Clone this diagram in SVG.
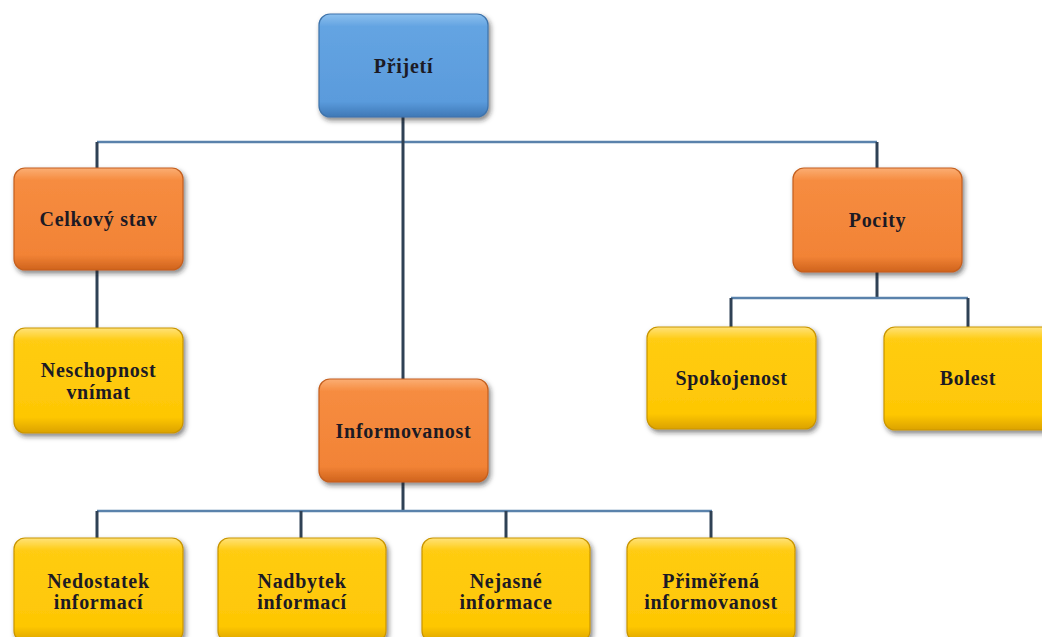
<svg xmlns="http://www.w3.org/2000/svg" width="1042" height="637" viewBox="0 0 1042 637">
<defs>
  <filter id="sh" x="-10%" y="-10%" width="125%" height="130%">
    <feDropShadow dx="2" dy="3" stdDeviation="2.5" flood-color="#202020" flood-opacity="0.55"/>
  </filter>
  <linearGradient id="gBlue" x1="0" y1="0" x2="0" y2="1">
    <stop offset="0" stop-color="#8cc0ee"/>
    <stop offset="0.12" stop-color="#64a4e2"/>
    <stop offset="0.85" stop-color="#5a9bdc"/>
    <stop offset="1" stop-color="#3f78b6"/>
  </linearGradient>
  <linearGradient id="gOrange" x1="0" y1="0" x2="0" y2="1">
    <stop offset="0" stop-color="#fbae74"/>
    <stop offset="0.12" stop-color="#f68c40"/>
    <stop offset="0.85" stop-color="#f28336"/>
    <stop offset="1" stop-color="#cf631c"/>
  </linearGradient>
  <linearGradient id="gYellow" x1="0" y1="0" x2="0" y2="1">
    <stop offset="0" stop-color="#ffe27a"/>
    <stop offset="0.12" stop-color="#ffcc12"/>
    <stop offset="0.85" stop-color="#fec704"/>
    <stop offset="1" stop-color="#dba200"/>
  </linearGradient>
  <style>
    .box{filter:url(#sh);}
    .blue{fill:url(#gBlue);stroke:#3e73ab;stroke-width:1.2;}
    .orange{fill:url(#gOrange);stroke:#c45f1e;stroke-width:1.2;}
    .yellow{fill:url(#gYellow);stroke:#c99500;stroke-width:1.2;}
    .lbl{font-family:"Liberation Serif","Times New Roman",serif;font-weight:bold;font-size:20px;fill:#1c1a24;text-anchor:middle;letter-spacing:0.7px;}
    .h{stroke:#5a82ab;stroke-width:2.5;fill:none;}
    .v{stroke:#2f4155;stroke-width:3;fill:none;}
  </style>
</defs>
<rect width="1042" height="637" fill="#ffffff"/>
<g id="connectors">
  <line class="h" x1="97" y1="142" x2="877" y2="142"/>
  <line class="v" x1="403" y1="117" x2="403" y2="379"/>
  <line class="v" x1="97" y1="142" x2="97" y2="168"/>
  <line class="v" x1="877" y1="142" x2="877" y2="168"/>
  <line class="v" x1="97" y1="270" x2="97" y2="328"/>
  <line class="v" x1="877" y1="272" x2="877" y2="298"/>
  <line class="h" x1="731" y1="298" x2="968" y2="298"/>
  <line class="v" x1="731" y1="298" x2="731" y2="327"/>
  <line class="v" x1="968" y1="298" x2="968" y2="327"/>
  <line class="v" x1="403" y1="482" x2="403" y2="511"/>
  <line class="h" x1="97" y1="511" x2="712" y2="511"/>
  <line class="v" x1="97" y1="511" x2="97" y2="538"/>
  <line class="v" x1="301" y1="511" x2="301" y2="538"/>
  <line class="v" x1="506" y1="511" x2="506" y2="538"/>
  <line class="v" x1="711" y1="511" x2="711" y2="538"/>
</g>
<g id="prijeti">
  <rect class="box blue" x="319" y="14" width="169" height="103" rx="11"/>
  <text class="lbl" x="403.5" y="73">Přijetí</text>
</g>
<g id="celkovy-stav">
  <rect class="box orange" x="14" y="168" width="169" height="102" rx="11"/>
  <text class="lbl" x="98.5" y="226">Celkový stav</text>
</g>
<g id="pocity">
  <rect class="box orange" x="793" y="168" width="169" height="104" rx="11"/>
  <text class="lbl" x="877.5" y="227">Pocity</text>
</g>
<g id="neschopnost">
  <rect class="box yellow" x="14" y="328" width="169" height="105" rx="11"/>
  <text class="lbl" x="98.5" y="377">Neschopnost</text>
  <text class="lbl" x="98.5" y="399">vnímat</text>
</g>
<g id="spokojenost">
  <rect class="box yellow" x="647" y="327" width="169" height="102" rx="11"/>
  <text class="lbl" x="731.5" y="385">Spokojenost</text>
</g>
<g id="bolest">
  <rect class="box yellow" x="884" y="327" width="170" height="103" rx="11"/>
  <text class="lbl" x="968" y="385">Bolest</text>
</g>
<g id="informovanost">
  <rect class="box orange" x="319" y="379" width="169" height="103" rx="11"/>
  <text class="lbl" x="403.5" y="438">Informovanost</text>
</g>
<g id="nedostatek">
  <rect class="box yellow" x="14" y="538" width="169" height="104" rx="11"/>
  <text class="lbl" x="98.5" y="588">Nedostatek</text>
  <text class="lbl" x="98.5" y="609">informací</text>
</g>
<g id="nadbytek">
  <rect class="box yellow" x="218" y="538" width="168" height="104" rx="11"/>
  <text class="lbl" x="302" y="588">Nadbytek</text>
  <text class="lbl" x="302" y="609">informací</text>
</g>
<g id="nejasne">
  <rect class="box yellow" x="422" y="538" width="168" height="104" rx="11"/>
  <text class="lbl" x="506" y="588">Nejasné</text>
  <text class="lbl" x="506" y="609">informace</text>
</g>
<g id="primerena">
  <rect class="box yellow" x="627" y="538" width="168" height="104" rx="11"/>
  <text class="lbl" x="711" y="588">Přiměřená</text>
  <text class="lbl" x="711" y="609">informovanost</text>
</g>
</svg>
